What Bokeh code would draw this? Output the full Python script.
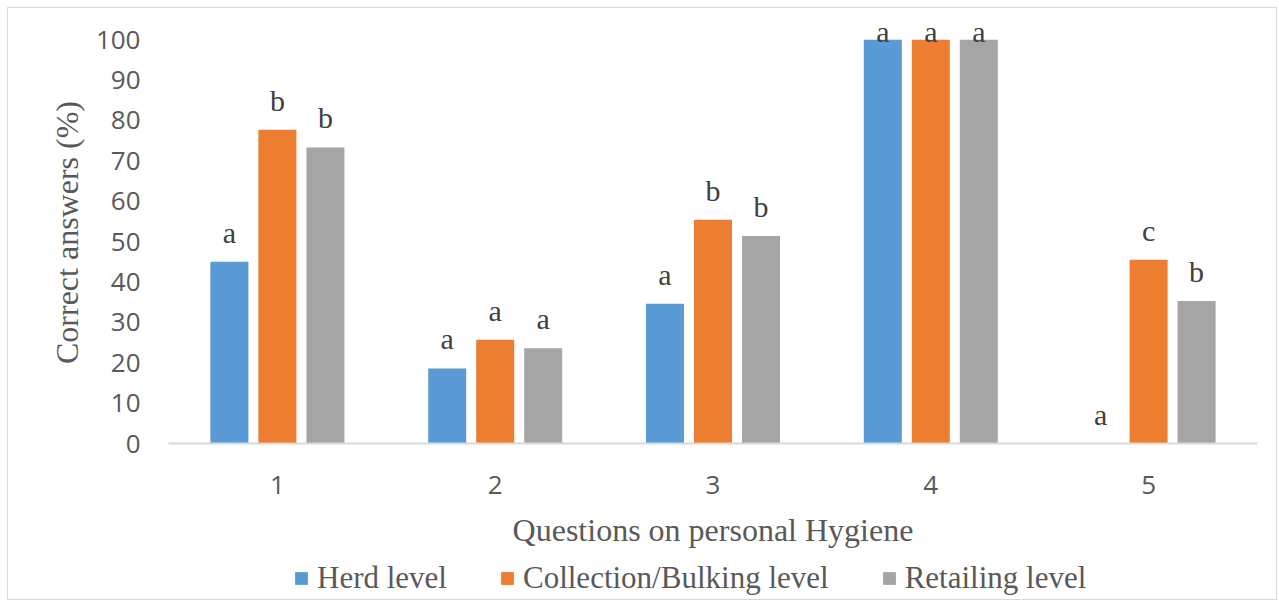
from bokeh.plotting import figure
from bokeh.models import (ColumnDataSource, FactorRange, Range1d, LabelSet,
                          Legend, LegendItem, FixedTicker)
from bokeh.layouts import column
from bokeh.transform import dodge
from bokeh.embed import file_html
from bokeh.resources import INLINE
import numpy as np

# ---------------- data ----------------
questions = ["1", "2", "3", "4", "5"]
series_names = ["Herd level", "Collection/Bulking level", "Retailing level"]
herd = [45.0, 18.6, 34.6, 100.0, 0.0]
collection = [77.7, 25.7, 55.4, 100.0, 45.5]
retailing = [73.3, 23.6, 51.4, 100.0, 35.3]
herd_letters = ["a", "a", "a", "a", "a"]
collection_letters = ["b", "a", "b", "a", "c"]
retailing_letters = ["b", "a", "b", "a", "b"]
y_ticks = [0, 10, 20, 30, 40, 50, 60, 70, 80, 90, 100]

colors = ["#5B9BD5", "#ED7D31", "#A5A5A5"]
offsets = [-0.2204, 0.0, 0.2204]
bar_w = 0.1745

SERIF = "Liberation Serif"
SANS = "Open Sans"

p = figure(x_range=FactorRange(*questions, range_padding=0),
           y_range=Range1d(0, 104.5),
           width=1268, height=553,
           min_border_left=160, min_border_top=13, min_border_right=19,
           min_border_bottom=118,
           output_backend="svg", toolbar_location=None)

p.background_fill_color = "white"
p.border_fill_color = "white"
p.outline_line_color = None
p.xgrid.grid_line_color = None
p.ygrid.grid_line_color = None

all_vals = [herd, collection, retailing]
all_letters = [herd_letters, collection_letters, retailing_letters]
for name, vals, lets, col, off in zip(series_names, all_vals, all_letters, colors, offsets):
    v = np.array(vals)
    # label offset in pixels: above bar, clamped at the top of the plot area
    yoff = np.where(v >= 100, -2, 19)
    src = ColumnDataSource(dict(q=questions, v=vals, lab=lets, yoff=yoff))
    p.vbar(x=dodge("q", off, range=p.x_range), top="v", bottom=0, width=bar_w,
           source=src, fill_color=col, line_color=None)
    ls = LabelSet(x=dodge("q", off, range=p.x_range), y="v", text="lab", source=src,
                  y_offset="yoff", text_align="center", text_baseline="alphabetic",
                  text_font=SERIF, text_font_size="30px", text_color="#404040")
    p.add_layout(ls)

# y axis
p.yaxis.ticker = FixedTicker(ticks=y_ticks)
p.yaxis.axis_line_color = None
p.yaxis.major_tick_line_color = None
p.yaxis.minor_tick_line_color = None
p.yaxis.major_tick_out = 0
p.yaxis.major_label_standoff = 28
p.yaxis.major_label_text_font = SANS
p.yaxis.major_label_text_font_size = "26px"
p.yaxis.major_label_text_color = "#595959"
p.yaxis.axis_label = "Correct answers (%)"
p.yaxis.axis_label_text_font = SERIF
p.yaxis.axis_label_text_font_size = "32px"
p.yaxis.axis_label_text_font_style = "normal"
p.yaxis.axis_label_text_color = "#595959"
p.yaxis.axis_label_standoff = 8

# x axis
p.xaxis.axis_line_color = "#d9d9d9"
p.xaxis.axis_line_width = 2
p.xaxis.major_tick_line_color = None
p.xaxis.minor_tick_line_color = None
p.xaxis.major_tick_out = 0
p.xaxis.major_label_standoff = 32
p.xaxis.major_label_text_font = SANS
p.xaxis.major_label_text_font_size = "26px"
p.xaxis.major_label_text_color = "#595959"
p.xaxis.axis_label = "Questions on personal Hygiene"
p.xaxis.axis_label_text_font = SERIF
p.xaxis.axis_label_text_font_size = "32px"
p.xaxis.axis_label_text_font_style = "normal"
p.xaxis.axis_label_text_color = "#595959"
p.xaxis.axis_label_standoff = 15

# ---------------- legend strip ----------------
p2 = figure(width=1268, height=38, x_range=Range1d(0, 1), y_range=Range1d(0, 1),
            x_axis_type=None, y_axis_type=None,
            min_border_left=0, min_border_right=0, min_border_top=0, min_border_bottom=0,
            output_backend="svg", toolbar_location=None)
p2.outline_line_color = None
p2.xgrid.grid_line_color = None
p2.ygrid.grid_line_color = None
p2.background_fill_color = "white"
p2.border_fill_color = "white"

items = []
for name, col in zip(series_names, colors):
    # zero-size proxy renderer: only its style is used, for the legend swatch
    r = p2.vbar(x=[0.5], top=[0], bottom=[0], width=0.0, fill_color=col, line_color=None)
    items.append(LegendItem(label=name, renderers=[r]))

legend = Legend(items=items, orientation="horizontal", location=(125, 3),
                glyph_width=16, glyph_height=16, label_standoff=8, spacing=52,
                padding=0, margin=0, border_line_color=None,
                label_text_font=SERIF, label_text_font_size="31px",
                label_text_color="#595959", background_fill_alpha=0)
p2.add_layout(legend, "center")

layout = column(p, p2, spacing=0,
                styles={"border": "1px solid #d9d9d9", "margin-left": "7px",
                        "margin-top": "7px"})

open("out.html", "w").write(file_html(layout, INLINE))
